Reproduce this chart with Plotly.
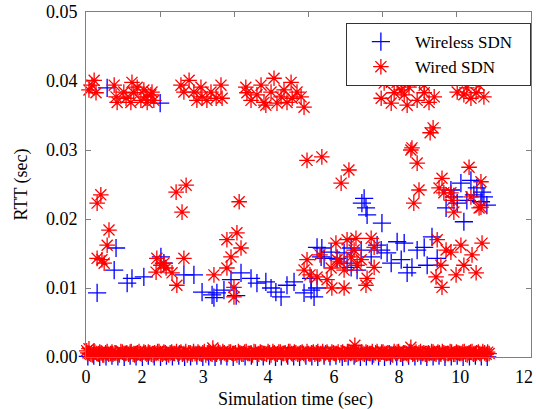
import plotly.graph_objects as go

# ---------------- data (time in sec, RTT in sec) ----------------
wireless_x = [0.57, 2.00,
              0.30, 0.81, 0.76, 1.11, 1.24, 1.56, 2.02, 2.10, 2.64, 2.91,
              3.13, 3.40, 3.53, 3.72, 3.91, 4.18, 4.45, 4.61, 4.85, 4.99,
              5.12, 5.26, 5.42, 5.61, 5.88, 6.15, 6.23, 6.07, 6.36, 6.61,
              6.77, 7.04, 7.15, 7.42, 7.31, 7.69, 7.96, 8.12, 8.23, 8.50,
              8.66, 8.79, 8.93, 9.12, 9.33, 9.47, 9.20, 8.58, 8.39, 6.42,
              7.85, 3.45, 4.05, 6.23, 6.34, 6.96, 7.15, 6.07,
              7.50, 7.55, 7.58, 7.98, 7.44,
              9.84, 10.11, 10.38, 10.54, 10.73, 10.27, 10.01, 9.71, 10.19,
              10.81, 10.46, 10.68, 9.92, 10.65]
wireless_y = [0.0390, 0.0368,
              0.0093, 0.0158, 0.0126, 0.0107, 0.0114, 0.0116, 0.0145, 0.0136, 0.0119, 0.0119,
              0.0094, 0.0090, 0.0093, 0.0097, 0.0112, 0.0122, 0.0114, 0.0107, 0.0109, 0.0100,
              0.0094, 0.0087, 0.0104, 0.0109, 0.0093, 0.0087, 0.0100, 0.0114, 0.0158, 0.0152,
              0.0143, 0.0136, 0.0158, 0.0155, 0.0126, 0.0145, 0.0155, 0.0151, 0.0136, 0.0141,
              0.0122, 0.0130, 0.0155, 0.0159, 0.0174, 0.0143, 0.0133, 0.0165, 0.0167, 0.0143,
              0.0162, 0.0086, 0.0089, 0.0159, 0.0145, 0.0151, 0.0130, 0.0097,
              0.0230, 0.0216, 0.0206, 0.0194, 0.0223,
              0.0242, 0.0252, 0.0256, 0.0245, 0.0232, 0.0227, 0.0223, 0.0216, 0.0196,
              0.0220, 0.0235, 0.0239, 0.0232, 0.0225]

wireless_band_x = [0.05, 0.21, 0.37, 0.54, 0.70, 0.86, 1.03, 1.19, 1.35, 1.52,
                   1.68, 1.84, 2.01, 2.17, 2.33, 2.50, 2.66, 2.82, 2.99, 3.15,
                   3.31, 3.48, 3.64, 3.80, 3.97, 4.13, 4.29, 4.46, 4.62, 4.78,
                   4.95, 5.11, 5.27, 5.44, 5.60, 5.76, 5.93, 6.09, 6.25, 6.42,
                   6.58, 6.74, 6.91, 7.07, 7.23, 7.40, 7.56, 7.72, 7.89, 8.05,
                   8.21, 8.38, 8.54, 8.70, 8.87, 9.03, 9.19, 9.36, 9.52, 9.68,
                   9.85, 10.01, 10.17, 10.34, 10.50, 10.66, 10.82]
wireless_band_y = [0.0001, 0.0002, 0.0000, 0.0001, 0.0002, 0.0001, 0.0000, 0.0002, 0.0001, 0.0000,
                   0.0002, 0.0001, 0.0000, 0.0002, 0.0001, 0.0002, 0.0000, 0.0001, 0.0002, 0.0000,
                   0.0001, 0.0000, 0.0002, 0.0001, 0.0000, 0.0002, 0.0001, 0.0002, 0.0000, 0.0001,
                   0.0002, 0.0000, 0.0001, 0.0002, 0.0001, 0.0000, 0.0002, 0.0001, 0.0000, 0.0002,
                   0.0001, 0.0002, 0.0000, 0.0001, 0.0002, 0.0000, 0.0001, 0.0002, 0.0001, 0.0000,
                   0.0002, 0.0001, 0.0000, 0.0002, 0.0001, 0.0002, 0.0000, 0.0001, 0.0002, 0.0000,
                   0.0001, 0.0002, 0.0000, 0.0001, 0.0002, 0.0001, 0.0000]

wired_x = [0.22, 0.08, 0.27, 0.16,
           0.76, 0.81, 1.24, 1.02, 1.29, 0.84, 1.21, 1.56, 1.62, 1.75, 1.83, 1.48, 1.08, 1.38, 1.65, 1.78,
           2.56, 2.78, 2.91, 3.10, 3.13, 3.37, 3.51, 3.64, 2.64, 3.26, 3.67, 2.99,
           4.31, 4.34, 4.72, 5.07, 4.99, 5.34, 5.53, 5.69, 5.80, 5.88, 4.45, 4.80, 5.15, 5.42, 4.61, 5.26, 4.85, 5.56,
           8.04, 8.39, 8.71, 9.12, 7.96, 8.31, 8.58, 8.93, 9.25, 8.23, 8.66, 9.12, 9.39, 8.50, 8.10, 8.60, 9.00,
           10.01, 10.27, 10.60, 10.73, 10.38, 10.19, 10.52,
           5.96, 6.36, 7.09, 6.88, 8.76, 8.93, 8.98, 8.84, 9.60, 9.52, 10.33, 10.65, 9.84, 10.60, 9.92,
           9.36, 9.28, 8.79, 0.30, 0.40, 2.43, 2.70, 2.59, 4.13, 9.65, 9.87, 10.65, 10.38,
           0.62, 0.57, 0.30, 0.49, 0.43, 2.64, 1.91, 2.02, 1.89, 2.16, 2.32, 2.45, 2.10, 3.45,
           3.80, 4.07, 4.18, 3.91, 3.80, 3.99, 3.99,
           5.96, 5.88, 6.23, 6.50, 6.63, 6.96, 6.74, 7.04, 7.28, 7.69, 7.15, 7.42, 7.77, 7.58, 7.55,
           7.77, 6.77, 7.23, 6.61, 6.31, 6.85, 7.31, 6.96, 6.04,
           9.44, 9.60, 9.57, 9.71, 10.11, 10.68, 10.41, 10.19, 9.98, 10.52, 9.47, 9.84,
           0.08, 3.42, 7.25, 8.76]
wired_y = [0.0401, 0.0387, 0.0383, 0.0394,
           0.0394, 0.0377, 0.0398, 0.0384, 0.0383, 0.0369, 0.0369, 0.0387, 0.0377, 0.0380, 0.0372, 0.0372, 0.0375, 0.0391, 0.0369, 0.0384,
           0.0394, 0.0401, 0.0384, 0.0391, 0.0377, 0.0384, 0.0375, 0.0394, 0.0384, 0.0372, 0.0375, 0.0372,
           0.0391, 0.0383, 0.0394, 0.0404, 0.0384, 0.0387, 0.0398, 0.0384, 0.0377, 0.0362, 0.0372, 0.0369, 0.0368, 0.0369, 0.0380, 0.0377, 0.0365, 0.0375,
           0.0397, 0.0398, 0.0391, 0.0394, 0.0375, 0.0383, 0.0380, 0.0372, 0.0369, 0.0368, 0.0365, 0.0383, 0.0377, 0.0387, 0.0401, 0.0402, 0.0400,
           0.0384, 0.0390, 0.0394, 0.0377, 0.0375, 0.0380, 0.0383,
           0.0285, 0.0290, 0.0271, 0.0252, 0.0300, 0.0281, 0.0242, 0.0223, 0.0259, 0.0245, 0.0275, 0.0254, 0.0238, 0.0216, 0.0210,
           0.0332, 0.0325, 0.0303, 0.0223, 0.0235, 0.0239, 0.0249, 0.0210, 0.0225, 0.0238, 0.0227, 0.0217, 0.0232,
           0.0184, 0.0162, 0.0143, 0.0136, 0.0141, 0.0143, 0.0143, 0.0133, 0.0123, 0.0129, 0.0122, 0.0104, 0.0136, 0.0119,
           0.0170, 0.0180, 0.0158, 0.0145, 0.0129, 0.0101, 0.0087,
           0.0141, 0.0126, 0.0116, 0.0112, 0.0100, 0.0100, 0.0165, 0.0170, 0.0172, 0.0172, 0.0145, 0.0141, 0.0130, 0.0114, 0.0104,
           0.0159, 0.0141, 0.0155, 0.0129, 0.0148, 0.0138, 0.0133, 0.0126, 0.0119,
           0.0116, 0.0101, 0.0133, 0.0155, 0.0162, 0.0165, 0.0148, 0.0133, 0.0119, 0.0122, 0.0170, 0.0152,
           0.0012, 0.0013, 0.0017, 0.0014]

wired_band_x = [0.02, 0.09, 0.17, 0.24, 0.33, 0.41, 0.48, 0.57, 0.66, 0.73,
                0.81, 0.90, 0.98, 1.06, 1.15, 1.22, 1.31, 1.39, 1.47, 1.56,
                1.64, 1.72, 1.81, 1.89, 1.97, 2.06, 2.14, 2.23, 2.31, 2.39,
                2.48, 2.56, 2.64, 2.73, 2.81, 2.90, 2.98, 3.06, 3.15, 3.23,
                3.31, 3.40, 3.48, 3.57, 3.65, 3.73, 3.82, 3.90, 3.99, 4.07,
                4.15, 4.24, 4.32, 4.41, 4.49, 4.57, 4.66, 4.74, 4.82, 4.91,
                4.99, 5.08, 5.16, 5.24, 5.33, 5.41, 5.50, 5.58, 5.66, 5.75,
                5.83, 5.91, 6.00, 6.08, 6.17, 6.25, 6.33, 6.42, 6.50, 6.59,
                6.67, 6.75, 6.84, 6.92, 7.01, 7.09, 7.17, 7.26, 7.34, 7.43,
                7.51, 7.59, 7.68, 7.76, 7.85, 7.93, 8.01, 8.10, 8.18, 8.27,
                8.35, 8.43, 8.52, 8.60, 8.69, 8.77, 8.85, 8.94, 9.02, 9.11,
                9.19, 9.27, 9.36, 9.44, 9.53, 9.61, 9.69, 9.78, 9.86, 9.95,
                10.03, 10.11, 10.20, 10.28, 10.37, 10.45, 10.53, 10.62, 10.70, 10.79,
                10.87]
wired_band_y = [0.0009, 0.0005, 0.0003, 0.0007, 0.0004, 0.0006, 0.0003, 0.0008, 0.0005, 0.0004,
                0.0006, 0.0003, 0.0007, 0.0005, 0.0004, 0.0008, 0.0003, 0.0006, 0.0005, 0.0007,
                0.0004, 0.0006, 0.0003, 0.0005, 0.0008, 0.0004, 0.0006, 0.0003, 0.0007, 0.0005,
                0.0004, 0.0007, 0.0005, 0.0003, 0.0006, 0.0008, 0.0004, 0.0005, 0.0006, 0.0003,
                0.0007, 0.0004, 0.0005, 0.0008, 0.0003, 0.0006, 0.0004, 0.0007, 0.0005, 0.0003,
                0.0006, 0.0004, 0.0008, 0.0005, 0.0003, 0.0007, 0.0004, 0.0006, 0.0005, 0.0008,
                0.0003, 0.0006, 0.0004, 0.0007, 0.0005, 0.0003, 0.0008, 0.0004, 0.0006, 0.0005,
                0.0007, 0.0003, 0.0005, 0.0006, 0.0004, 0.0008, 0.0005, 0.0003, 0.0007, 0.0004,
                0.0006, 0.0005, 0.0003, 0.0007, 0.0004, 0.0008, 0.0006, 0.0003, 0.0005, 0.0007,
                0.0004, 0.0006, 0.0005, 0.0003, 0.0008, 0.0004, 0.0007, 0.0005, 0.0006, 0.0003,
                0.0005, 0.0008, 0.0004, 0.0006, 0.0003, 0.0007, 0.0005, 0.0004, 0.0008, 0.0006,
                0.0003, 0.0005, 0.0007, 0.0004, 0.0006, 0.0008, 0.0003, 0.0005, 0.0007, 0.0004,
                0.0006, 0.0005, 0.0008, 0.0003, 0.0007, 0.0004, 0.0006, 0.0005, 0.0008, 0.0004,
                0.0005]

# second, interleaved row of the dense wired band
wired_band2_x = [0.05, 0.13, 0.21, 0.29, 0.37, 0.45, 0.53, 0.61, 0.70, 0.78,
                 0.86, 0.94, 1.02, 1.10, 1.19, 1.27, 1.35, 1.43, 1.51, 1.60,
                 1.68, 1.76, 1.85, 1.93, 2.01, 2.10, 2.18, 2.27, 2.35, 2.44,
                 2.52, 2.60, 2.69, 2.77, 2.86, 2.94, 3.02, 3.11, 3.19, 3.27,
                 3.36, 3.44, 3.52, 3.61, 3.69, 3.78, 3.86, 3.95, 4.03, 4.11,
                 4.20, 4.28, 4.37, 4.45, 4.53, 4.62, 4.70, 4.78, 4.87, 4.95,
                 5.04, 5.12, 5.20, 5.29, 5.37, 5.46, 5.54, 5.62, 5.71, 5.79,
                 5.87, 5.96, 6.04, 6.13, 6.21, 6.29, 6.38, 6.46, 6.55, 6.63,
                 6.71, 6.80, 6.88, 6.97, 7.05, 7.13, 7.22, 7.30, 7.39, 7.47,
                 7.55, 7.64, 7.72, 7.81, 7.89, 7.97, 8.06, 8.14, 8.23, 8.31,
                 8.39, 8.48, 8.56, 8.65, 8.73, 8.81, 8.90, 8.98, 9.07, 9.15,
                 9.23, 9.32, 9.40, 9.49, 9.57, 9.65, 9.74, 9.82, 9.91, 9.99,
                 10.07, 10.16, 10.24, 10.33, 10.41, 10.49, 10.58, 10.66, 10.75, 10.83]
wired_band2_y = [0.0006, 0.0004, 0.0008, 0.0005, 0.0007, 0.0003, 0.0006, 0.0004, 0.0007, 0.0006,
                 0.0004, 0.0008, 0.0005, 0.0006, 0.0007, 0.0004, 0.0005, 0.0008, 0.0004, 0.0006,
                 0.0007, 0.0004, 0.0006, 0.0008, 0.0005, 0.0007, 0.0004, 0.0006, 0.0005, 0.0008,
                 0.0006, 0.0004, 0.0008, 0.0006, 0.0004, 0.0005, 0.0007, 0.0004, 0.0008, 0.0006,
                 0.0005, 0.0007, 0.0004, 0.0006, 0.0008, 0.0004, 0.0007, 0.0005, 0.0006, 0.0008,
                 0.0004, 0.0007, 0.0005, 0.0006, 0.0008, 0.0004, 0.0007, 0.0005, 0.0004, 0.0006,
                 0.0008, 0.0004, 0.0007, 0.0005, 0.0006, 0.0008, 0.0005, 0.0007, 0.0004, 0.0006,
                 0.0005, 0.0008, 0.0004, 0.0007, 0.0006, 0.0004, 0.0008, 0.0006, 0.0004, 0.0007,
                 0.0005, 0.0007, 0.0006, 0.0004, 0.0008, 0.0005, 0.0007, 0.0004, 0.0006, 0.0005,
                 0.0007, 0.0005, 0.0008, 0.0006, 0.0004, 0.0007, 0.0005, 0.0006, 0.0004, 0.0008,
                 0.0007, 0.0004, 0.0006, 0.0005, 0.0008, 0.0004, 0.0007, 0.0006, 0.0005, 0.0004,
                 0.0006, 0.0008, 0.0005, 0.0007, 0.0004, 0.0006, 0.0005, 0.0008, 0.0004, 0.0007,
                 0.0005, 0.0007, 0.0004, 0.0006, 0.0008, 0.0005, 0.0007, 0.0004, 0.0006, 0.0007]

x_label_pos = [0, 1.51, 3.16, 4.91, 6.69, 8.44, 10.09, 11.81]
x_label_text = ["0", "2", "3", "4", "6", "8", "10", "12"]
x_tick_marks = [0, 2, 4, 6, 8, 10, 12]
y_ticks = [0, 0.01, 0.02, 0.03, 0.04, 0.05]

FONT = "Liberation Serif, Times New Roman, serif"
AXC = "#7f7f7f"
TXT = dict(family=FONT, size=18, color="black")

fig = go.Figure()
fig.add_trace(go.Scatter(
    x=wireless_band_x + wireless_x, y=wireless_band_y + wireless_y,
    mode="markers", name="Wireless SDN\u00a0\u00a0\u00a0", cliponaxis=False,
    marker=dict(symbol="cross-thin-open", size=13, color="#0000ff",
                line=dict(color="#0000ff", width=1.3))))
fig.add_trace(go.Scatter(
    x=wired_band_x + wired_band2_x + wired_x,
    y=wired_band_y + wired_band2_y + wired_y,
    mode="markers", name="Wired SDN", cliponaxis=False,
    marker=dict(symbol="asterisk-open", size=13, color="#ff0000",
                line=dict(color="#ff0000", width=1.3))))
fig.add_trace(go.Scatter(x=[None], y=[None], xaxis="x2", showlegend=False,
                         hoverinfo="skip"))

fig.update_layout(
    width=536, height=409,
    margin=dict(l=86, r=5, t=12, b=52, autoexpand=False),
    paper_bgcolor="white", plot_bgcolor="white",
    font=TXT,
    showlegend=True,
    legend=dict(x=0.584, y=0.968, xanchor="left", yanchor="top",
                bgcolor="white", bordercolor="#333333", borderwidth=1,
                font=dict(family=FONT, size=17, color="black"),
                itemwidth=58, tracegroupgap=0),
    xaxis=dict(range=[0, 12], tickmode="array", tickvals=x_label_pos,
               ticktext=x_label_text, ticks="", showline=True,
               linecolor=AXC, linewidth=1, mirror=True, showgrid=False,
               zeroline=False, ticklabelstandoff=3, automargin=False,
               tickfont=TXT),
    xaxis2=dict(range=[0, 12], overlaying="x", side="top", anchor="y",
                tickmode="array", tickvals=x_tick_marks, ticks="inside",
                ticklen=5, tickcolor=AXC, showticklabels=False,
                showline=False, showgrid=False, zeroline=False,
                automargin=False),
    yaxis=dict(range=[0, 0.05], tickmode="array", tickvals=y_ticks,
               tickformat=".2f", ticks="inside", ticklen=5, tickcolor=AXC,
               showline=True, linecolor=AXC, linewidth=1, mirror="ticks",
               showgrid=False, zeroline=False, ticklabelstandoff=4,
               automargin=False, tickfont=TXT),
    annotations=[
        dict(text="Simulation time (sec)", xref="paper", yref="paper",
             x=0.47, y=-0.123, xanchor="center", yanchor="middle",
             showarrow=False, font=TXT),
        dict(text="RTT (sec)", xref="paper", yref="paper",
             x=-0.146, y=0.5, xanchor="center", yanchor="middle",
             textangle=-90, showarrow=False, font=TXT),
    ],
)

fig.write_html("out.html", config={"displayModeBar": False},
               post_script="document.body.style.margin='0px';")
